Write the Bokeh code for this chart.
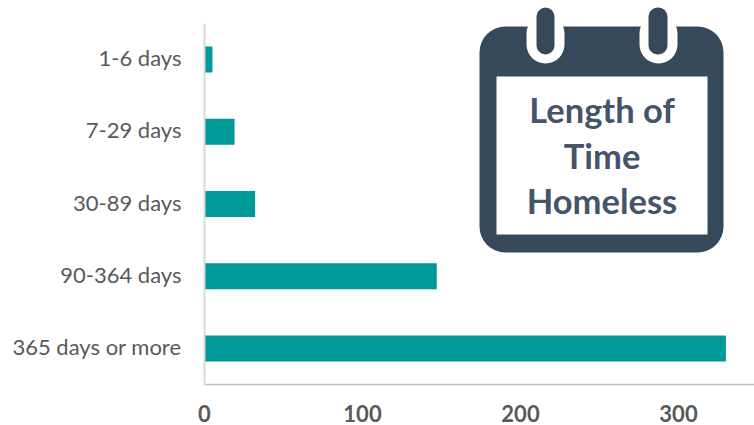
from bokeh.plotting import figure
from bokeh.models import BoxAnnotation, Label, FixedTicker
from bokeh.embed import file_html
from bokeh.resources import INLINE

categories = ["1-6 days", "7-29 days", "30-89 days", "90-364 days", "365 days or more"]
values = [5, 19, 32, 147, 330]
x_ticks = [0, 100, 200, 300]
badge_lines = ["Length of", "Time", "Homeless"]

TEAL = "#009999"
DARK = "#36495A"
X0, Y0 = 204, 384      # frame origin in page pixels
ROW_PX = 72.2          # pixels per category row
positions = list(range(len(categories)))
label_positions = [i - 2 / ROW_PX for i in positions]  # labels sit 2px above the bar centre

p = figure(width=754, height=425, output_backend="svg", toolbar_location=None,
           y_range=(len(categories) - 0.5, -0.5 - 23 / ROW_PX), x_range=(0, 348.1),
           min_border_left=204, min_border_right=0, min_border_top=0, min_border_bottom=41,
           outline_line_color=None, background_fill_color="white", border_fill_color="white")
p.hbar(y=positions, right=values, left=0, height=0.36, color=TEAL, line_color=None)

p.grid.visible = False
p.xaxis.ticker = FixedTicker(ticks=x_ticks)
p.yaxis.ticker = FixedTicker(ticks=label_positions)
p.yaxis.major_label_overrides = dict(zip(label_positions, categories))
p.yaxis.bounds = (-0.5, len(categories) - 0.5)
for ax in (p.xaxis[0], p.yaxis[0]):
    ax.major_tick_line_color = None
    ax.minor_tick_line_color = None
    ax.major_tick_out = 0
    ax.major_tick_in = 0
    ax.minor_tick_out = 0
    ax.minor_tick_in = 0
    ax.major_label_text_font = "Lato"
    ax.major_label_text_color = "#595959"
    ax.major_label_text_font_size = "22px"
p.xaxis.major_label_text_font_style = "bold"
p.xaxis.axis_line_color = "#BFBFBF"
p.xaxis.axis_line_width = 1.5
p.yaxis.axis_line_color = "#D9D9D9"
p.yaxis.axis_line_width = 2
p.xaxis.major_label_standoff = 20
p.yaxis.major_label_standoff = 23


def box(l, t, r, b, color, radius=0):
    p.add_layout(BoxAnnotation(left=l - X0, right=r - X0, top=Y0 - t, bottom=Y0 - b,
                               left_units="screen", right_units="screen",
                               top_units="screen", bottom_units="screen",
                               fill_color=color, fill_alpha=1, line_alpha=0,
                               border_radius=radius, level="overlay"))


box(479, 26, 723, 252, DARK, 26)
box(496, 76, 707, 234, "white")
for wl, wr, dl, dr in ((526, 564, 536, 554), (639, 677, 648, 667)):
    box(wl, 14, wr, 63, "white", 19)
    box(dl, 7, dr, 54, DARK, 9)

for line, cy in zip(badge_lines, (109, 155, 200)):
    p.add_layout(Label(x=601.5 - X0, y=Y0 - cy, x_units="screen", y_units="screen", text=line,
                       text_font="Lato", text_font_style="bold", text_font_size="34.5px",
                       text_color="#44546A", text_align="center", text_baseline="middle",
                       level="overlay"))

open("out.html", "w").write(file_html(p, INLINE))
